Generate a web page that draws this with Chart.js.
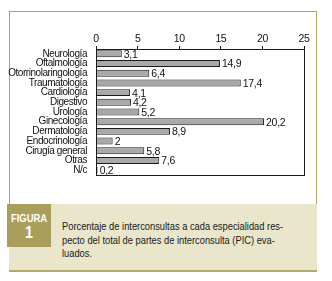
<!DOCTYPE html>
<html>
<head>
<meta charset="utf-8">
<script src="https://cdn.jsdelivr.net/npm/chart.js@4"></script>
<style>
  body { margin: 0; width: 332px; height: 281px; background: #fff; position: relative; overflow: hidden;
         font-family: "Liberation Sans", Arial, sans-serif; }
  #frame { position: absolute; left: 9px; top: 11px; width: 306px; height: 193px;
           border: 1px solid #ada35f; border-bottom: none; }
  #chartbox { position: absolute; left: 0; top: 0; width: 332px; height: 204px; }
  #caption { position: absolute; left: 9px; top: 204px; width: 308px; height: 66px; background: #e9e6cb;
             border-bottom: 2px solid #b3aa6c; }
  #fig { position: absolute; left: 7px; top: 204px; width: 44px; height: 43px; background: #a99e5c;
         color: #fff; text-align: center; font-weight: bold; }
  #fig .a { font-size: 11.5px; line-height: 11px; margin-top: 9px; transform: scaleX(0.82); }
  #fig .b { font-size: 17px; line-height: 17px; transform: scaleX(0.85); }
  #captext { position: absolute; left: 62px; top: 220px; width: 320px; font-size: 11.5px; line-height: 13.6px;
             color: #1a1a1a; white-space: nowrap; transform: scaleX(0.81); transform-origin: 0 0; }
</style>
</head>
<body>
<div id="frame"></div>
<div id="chartbox"><canvas id="myChart" width="332" height="204"></canvas></div>
<div id="caption"></div>
<div id="fig"><div class="a">FIGURA</div><div class="b">1</div></div>
<div id="captext">Porcentaje de interconsultas a cada especialidad res-<br>pecto del total de partes de interconsulta (PIC) eva-<br>luados.</div>
<script>
// Dataset
const labels = ["Neurología", "Oftalmología", "Otorrinolaringología", "Traumatología", "Cardiología",
  "Digestivo", "Urología", "Ginecología", "Dermatología", "Endocrinología", "Cirugía general", "Otras", "N/c"];
const values = [3.1, 14.9, 6.4, 17.4, 4.1, 4.2, 5.2, 20.2, 8.9, 2, 5.8, 7.6, 0.2];
const xTicks = [0, 5, 10, 15, 20, 25];

const FONT = "'Liberation Sans', Arial, sans-serif";
const SPACING = "-0.45px";

// tighter letters (the original uses a condensed face)
const tight = {
  id: "tight",
  beforeLayout(chart) { chart.ctx.letterSpacing = SPACING; },
  beforeDraw(chart) { chart.ctx.letterSpacing = SPACING; }
};

// border round the plot + value labels
const extras = {
  id: "extras",
  afterDatasetsDraw(chart) {
    const ctx = chart.ctx;
    const a = chart.chartArea;
    ctx.save();
    ctx.strokeStyle = "#1a1a1a";
    ctx.lineWidth = 1;
    ctx.strokeRect(Math.round(a.left) + 0.5, Math.round(a.top) + 0.5, Math.round(a.right - a.left), Math.round(a.bottom - a.top));
    ctx.fillStyle = "#111";
    ctx.font = "10.5px " + FONT;
    ctx.letterSpacing = "-0.3px";
    ctx.textBaseline = "middle";
    chart.getDatasetMeta(0).data.forEach((bar, i) => {
      ctx.fillText(String(values[i]).replace(".", ","), bar.x + 2, bar.y + 1);
    });
    ctx.restore();
  }
};

let myChart = document.getElementById("myChart").getContext("2d");
new Chart(myChart, {
  type: "bar",
  data: {
    labels: labels,
    datasets: [{
      data: values,
      backgroundColor: "#a9a9a9",
      borderColor: "#1a1a1a",
      borderWidth: 1,
      barPercentage: 0.72,
      categoryPercentage: 1
    }]
  },
  options: {
    indexAxis: "y",
    responsive: false,
    animation: false,
    layout: { padding: { left: 0, right: 28, top: 0, bottom: 29 } },
    plugins: { legend: { display: false }, tooltip: { enabled: false } },
    scales: {
      x: {
        position: "top",
        min: 0, max: 25,
        afterBuildTicks: s => { s.ticks = xTicks.map(v => ({ value: v })); },
        afterFit: s => { s.height = 49; },
        grid: { drawOnChartArea: false, tickLength: 3, color: "#1a1a1a" },
        border: { color: "#1a1a1a" },
        ticks: { color: "#111", padding: 1, font: { family: FONT, size: 10.5 } }
      },
      y: {
        afterFit: s => { s.width = 96; },
        grid: { display: false },
        border: { color: "#1a1a1a" },
        ticks: { color: "#111", padding: 1, autoSkip: false, font: { family: FONT, size: 10 } }
      }
    }
  },
  plugins: [tight, extras]
});
</script>
</body>
</html>
